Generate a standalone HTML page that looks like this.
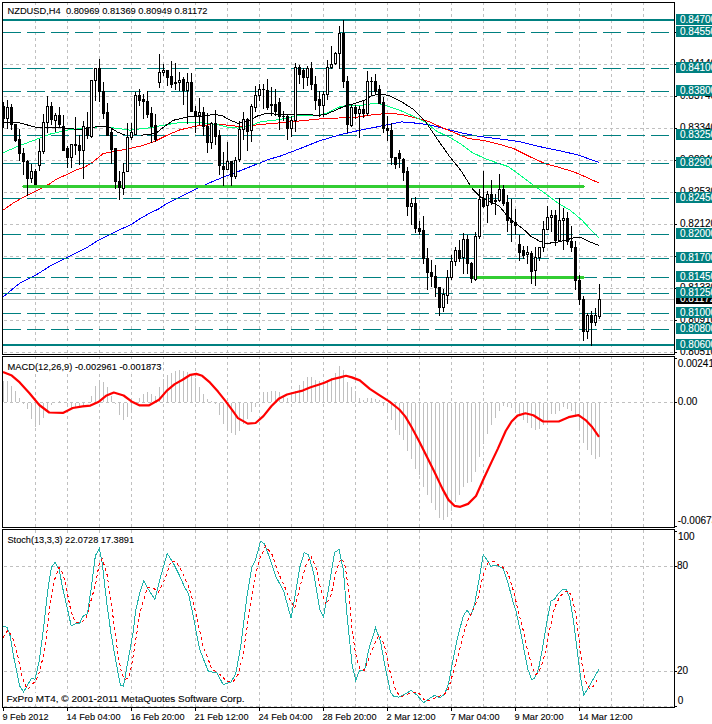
<!DOCTYPE html>
<html><head><meta charset="utf-8"><title>NZDUSD H4</title>
<style>html,body{margin:0;padding:0;background:#fff;overflow:hidden}</style></head>
<body>
<svg width="712" height="724" viewBox="0 0 712 724" shape-rendering="crispEdges" style="display:block">
<rect width="712" height="724" fill="#fff"/>
<g stroke="#c0c0c0" stroke-width="1" stroke-dasharray="3,3" fill="none">
<line x1="35.5" y1="2" x2="35.5" y2="354"/>
<line x1="35.5" y1="356" x2="35.5" y2="527"/>
<line x1="35.5" y1="530" x2="35.5" y2="707"/>
<line x1="67.5" y1="2" x2="67.5" y2="354"/>
<line x1="67.5" y1="356" x2="67.5" y2="527"/>
<line x1="67.5" y1="530" x2="67.5" y2="707"/>
<line x1="99.5" y1="2" x2="99.5" y2="354"/>
<line x1="99.5" y1="356" x2="99.5" y2="527"/>
<line x1="99.5" y1="530" x2="99.5" y2="707"/>
<line x1="131.5" y1="2" x2="131.5" y2="354"/>
<line x1="131.5" y1="356" x2="131.5" y2="527"/>
<line x1="131.5" y1="530" x2="131.5" y2="707"/>
<line x1="163.5" y1="2" x2="163.5" y2="354"/>
<line x1="163.5" y1="356" x2="163.5" y2="527"/>
<line x1="163.5" y1="530" x2="163.5" y2="707"/>
<line x1="195.5" y1="2" x2="195.5" y2="354"/>
<line x1="195.5" y1="356" x2="195.5" y2="527"/>
<line x1="195.5" y1="530" x2="195.5" y2="707"/>
<line x1="227.5" y1="2" x2="227.5" y2="354"/>
<line x1="227.5" y1="356" x2="227.5" y2="527"/>
<line x1="227.5" y1="530" x2="227.5" y2="707"/>
<line x1="259.5" y1="2" x2="259.5" y2="354"/>
<line x1="259.5" y1="356" x2="259.5" y2="527"/>
<line x1="259.5" y1="530" x2="259.5" y2="707"/>
<line x1="291.5" y1="2" x2="291.5" y2="354"/>
<line x1="291.5" y1="356" x2="291.5" y2="527"/>
<line x1="291.5" y1="530" x2="291.5" y2="707"/>
<line x1="323.5" y1="2" x2="323.5" y2="354"/>
<line x1="323.5" y1="356" x2="323.5" y2="527"/>
<line x1="323.5" y1="530" x2="323.5" y2="707"/>
<line x1="355.5" y1="2" x2="355.5" y2="354"/>
<line x1="355.5" y1="356" x2="355.5" y2="527"/>
<line x1="355.5" y1="530" x2="355.5" y2="707"/>
<line x1="387.5" y1="2" x2="387.5" y2="354"/>
<line x1="387.5" y1="356" x2="387.5" y2="527"/>
<line x1="387.5" y1="530" x2="387.5" y2="707"/>
<line x1="419.5" y1="2" x2="419.5" y2="354"/>
<line x1="419.5" y1="356" x2="419.5" y2="527"/>
<line x1="419.5" y1="530" x2="419.5" y2="707"/>
<line x1="451.5" y1="2" x2="451.5" y2="354"/>
<line x1="451.5" y1="356" x2="451.5" y2="527"/>
<line x1="451.5" y1="530" x2="451.5" y2="707"/>
<line x1="483.5" y1="2" x2="483.5" y2="354"/>
<line x1="483.5" y1="356" x2="483.5" y2="527"/>
<line x1="483.5" y1="530" x2="483.5" y2="707"/>
<line x1="515.5" y1="2" x2="515.5" y2="354"/>
<line x1="515.5" y1="356" x2="515.5" y2="527"/>
<line x1="515.5" y1="530" x2="515.5" y2="707"/>
<line x1="547.5" y1="2" x2="547.5" y2="354"/>
<line x1="547.5" y1="356" x2="547.5" y2="527"/>
<line x1="547.5" y1="530" x2="547.5" y2="707"/>
<line x1="579.5" y1="2" x2="579.5" y2="354"/>
<line x1="579.5" y1="356" x2="579.5" y2="527"/>
<line x1="579.5" y1="530" x2="579.5" y2="707"/>
<line x1="611.5" y1="2" x2="611.5" y2="354"/>
<line x1="611.5" y1="356" x2="611.5" y2="527"/>
<line x1="611.5" y1="530" x2="611.5" y2="707"/>
<line x1="643.5" y1="2" x2="643.5" y2="354"/>
<line x1="643.5" y1="356" x2="643.5" y2="527"/>
<line x1="643.5" y1="530" x2="643.5" y2="707"/>
<line x1="3" y1="64.5" x2="674" y2="64.5" stroke-dashoffset="5"/>
<line x1="3" y1="96.5" x2="674" y2="96.5" stroke-dashoffset="5"/>
<line x1="3" y1="128.5" x2="674" y2="128.5" stroke-dashoffset="5"/>
<line x1="3" y1="160.5" x2="674" y2="160.5" stroke-dashoffset="5"/>
<line x1="3" y1="192.5" x2="674" y2="192.5" stroke-dashoffset="5"/>
<line x1="3" y1="224.5" x2="674" y2="224.5" stroke-dashoffset="5"/>
<line x1="3" y1="256.5" x2="674" y2="256.5" stroke-dashoffset="5"/>
<line x1="3" y1="288.5" x2="674" y2="288.5" stroke-dashoffset="5"/>
<line x1="3" y1="320.5" x2="674" y2="320.5" stroke-dashoffset="5"/>
<line x1="3" y1="352.5" x2="674" y2="352.5" stroke-dashoffset="5"/>
<line x1="3" y1="402.5" x2="674" y2="402.5" stroke-dashoffset="5"/>
<line x1="3" y1="566.5" x2="674" y2="566.5" stroke-dashoffset="5"/>
<line x1="3" y1="671.5" x2="674" y2="671.5" stroke-dashoffset="5"/>
<line x1="3" y1="706.5" x2="674" y2="706.5" stroke-dashoffset="5"/>
</g>
<rect x="8" y="5" width="200" height="11" fill="#fff"/>
<rect x="8" y="361" width="153" height="11" fill="#fff"/>
<rect x="8" y="534" width="126" height="11" fill="#fff"/>
<rect x="7" y="693" width="238" height="11" fill="#fff"/>
<polyline points="3.0,297.0 19.7,283.2 35.4,275.4 51.0,265.5 66.8,257.7 86.5,247.8 96.0,241.7 104.4,237.5 112.9,233.2 121.3,229.0 131.1,224.5 138.1,219.9 149.4,213.3 159.2,208.7 166.2,203.8 174.7,199.5 183.1,195.3 191.5,191.1 196.0,189.0 208.6,183.2 224.4,176.7 240.1,170.8 255.8,164.5 270.0,159.0 279.7,156.3 299.3,148.9 319.0,141.0 338.6,135.1 358.3,130.6 378.0,126.7 390.0,124.2 401.8,121.9 413.6,122.9 429.3,124.8 445.1,128.8 460.8,132.7 476.5,136.0 492.2,138.0 508.0,140.0 519.3,141.6 539.0,146.5 558.6,150.5 578.3,155.0 590.1,159.3 598.6,162.3" fill="none" stroke="#0000ff" stroke-width="1"/>
<polyline points="3.0,210.2 14.0,202.5 26.7,195.5 35.1,191.3 42.1,187.8 49.2,184.2 56.2,179.3 63.2,176.2 70.2,173.0 77.2,169.5 84.3,167.4 91.3,163.2 100.0,156.2 103.0,153.5 114.0,151.5 125.8,149.2 141.8,145.9 155.6,141.0 165.4,136.0 179.2,130.1 194.9,126.2 208.6,124.8 224.4,124.8 236.2,126.2 248.0,126.2 260.0,124.5 279.7,122.9 299.3,121.0 319.0,119.0 338.6,118.0 358.3,117.0 374.0,114.5 385.8,113.7 400.0,114.1 413.6,117.4 429.3,121.7 441.1,127.2 452.9,132.1 468.6,138.6 484.4,140.6 500.1,144.5 513.4,148.5 529.2,156.4 544.9,163.6 558.6,167.2 574.4,172.1 588.1,178.0 598.6,182.9" fill="none" stroke="#ff0000" stroke-width="1"/>
<polyline points="3.0,152.7 19.7,145.6 39.3,138.3 51.0,133.8 68.8,129.9 88.5,127.9 102.0,126.5 118.0,128.5 130.0,130.1 149.7,127.8 169.3,124.2 181.0,122.3 196.9,122.3 216.5,124.4 224.0,126.3 229.3,127.4 237.8,128.1 246.2,126.0 253.2,124.6 260.2,121.8 275.7,120.0 287.5,118.0 299.3,115.0 319.0,115.0 326.9,113.0 338.6,107.2 346.5,105.6 362.2,105.2 374.0,103.3 381.9,104.2 390.0,107.0 401.8,111.1 413.6,116.4 425.4,122.3 437.2,131.5 449.0,137.0 460.8,143.9 472.6,152.7 484.4,158.3 496.2,162.6 508.0,166.5 517.8,173.4 530.0,182.6 546.9,194.7 558.6,203.6 570.4,210.4 582.2,220.3 590.1,229.1 598.6,237.6" fill="none" stroke="#00ff80" stroke-width="1"/>
<polyline points="3.0,123.0 16.0,122.0 26.0,124.6 39.0,128.0 59.0,127.5 79.0,129.5 92.0,127.5 102.0,126.0 110.0,127.5 118.0,132.4 126.0,135.4 134.0,136.0 140.0,135.4 155.6,133.5 163.4,127.2 173.3,120.3 187.0,117.0 200.8,116.4 214.5,114.4 222.4,115.8 230.3,120.3 238.1,123.3 248.0,121.3 257.8,115.8 268.0,113.0 279.7,115.0 291.5,114.7 305.2,114.5 319.0,115.4 326.9,114.0 338.6,108.8 346.5,105.6 354.4,103.6 364.2,100.3 372.0,95.4 381.9,94.0 389.8,95.8 401.8,102.0 413.6,109.5 425.4,121.3 437.2,139.0 449.0,155.7 460.8,170.4 472.6,189.1 480.4,197.0 491.8,202.6 499.7,206.5 507.5,216.3 515.4,223.2 523.3,229.1 531.1,236.4 539.0,240.9 546.9,243.5 558.6,241.9 566.5,239.9 574.4,237.6 582.2,238.0 590.1,241.9 598.6,245.4" fill="none" stroke="#000" stroke-width="1"/>
<rect x="3" y="19" width="671" height="2" fill="#008080"/>
<line x1="3" y1="32.5" x2="669" y2="32.5" stroke="#008080" stroke-width="1" stroke-dasharray="18,6"/>
<line x1="3" y1="68.5" x2="669" y2="68.5" stroke="#008080" stroke-width="1" stroke-dasharray="18,6"/>
<line x1="3" y1="91.5" x2="669" y2="91.5" stroke="#008080" stroke-width="1" stroke-dasharray="18,6"/>
<line x1="3" y1="135.5" x2="669" y2="135.5" stroke="#008080" stroke-width="1" stroke-dasharray="18,6"/>
<line x1="3" y1="163.5" x2="669" y2="163.5" stroke="#008080" stroke-width="1" stroke-dasharray="18,6"/>
<line x1="3" y1="198.5" x2="669" y2="198.5" stroke="#008080" stroke-width="1" stroke-dasharray="18,6"/>
<line x1="3" y1="234.5" x2="669" y2="234.5" stroke="#008080" stroke-width="1" stroke-dasharray="18,6"/>
<line x1="3" y1="258.5" x2="669" y2="258.5" stroke="#008080" stroke-width="1" stroke-dasharray="18,6"/>
<line x1="3" y1="277.5" x2="669" y2="277.5" stroke="#008080" stroke-width="1" stroke-dasharray="18,6"/>
<line x1="3" y1="293.5" x2="669" y2="293.5" stroke="#008080" stroke-width="1" stroke-dasharray="18,6"/>
<line x1="3" y1="313.5" x2="669" y2="313.5" stroke="#008080" stroke-width="1" stroke-dasharray="18,6"/>
<line x1="3" y1="329.5" x2="669" y2="329.5" stroke="#008080" stroke-width="1" stroke-dasharray="18,6"/>
<rect x="3" y="344" width="671" height="2" fill="#008080"/>
<rect x="3" y="299" width="671" height="1" fill="#c0c0c0"/>
<rect x="23" y="185" width="561" height="3" fill="#32cd32"/><rect x="22" y="186" width="563" height="1" fill="#32cd32"/>
<rect x="472" y="276" width="112" height="3" fill="#32cd32"/><rect x="472" y="277" width="113" height="1" fill="#32cd32"/>
<g fill="#000">
<rect x="3" y="102" width="1" height="26"/>
<rect x="2" y="106" width="3" height="13"/>
<rect x="7" y="100" width="1" height="29"/>
<rect x="6" y="107" width="3" height="12"/>
<rect x="11" y="104" width="1" height="26"/>
<rect x="10" y="107" width="3" height="18"/>
<rect x="15" y="124" width="1" height="18"/>
<rect x="14" y="124" width="3" height="17"/>
<rect x="19" y="129" width="1" height="32"/>
<rect x="18" y="139" width="3" height="15"/>
<rect x="23" y="148" width="1" height="27"/>
<rect x="22" y="153" width="3" height="9"/>
<rect x="27" y="160" width="1" height="36"/>
<rect x="26" y="161" width="3" height="18"/>
<rect x="31" y="164" width="1" height="19"/>
<rect x="30" y="171" width="3" height="8"/>
<rect x="35" y="169" width="1" height="16"/>
<rect x="34" y="171" width="3" height="14"/>
<rect x="39" y="139" width="1" height="32"/>
<rect x="38" y="151" width="3" height="15"/>
<rect x="43" y="114" width="1" height="40"/>
<rect x="42" y="122" width="3" height="30"/>
<rect x="47" y="96" width="1" height="37"/>
<rect x="46" y="106" width="3" height="17"/>
<rect x="51" y="102" width="1" height="23"/>
<rect x="50" y="106" width="3" height="14"/>
<rect x="55" y="113" width="1" height="19"/>
<rect x="54" y="115" width="3" height="6"/>
<rect x="59" y="107" width="1" height="20"/>
<rect x="58" y="115" width="3" height="10"/>
<rect x="63" y="115" width="1" height="36"/>
<rect x="62" y="126" width="3" height="25"/>
<rect x="67" y="146" width="1" height="22"/>
<rect x="66" y="148" width="3" height="10"/>
<rect x="71" y="144" width="1" height="24"/>
<rect x="70" y="144" width="3" height="14"/>
<rect x="75" y="117" width="1" height="38"/>
<rect x="74" y="144" width="3" height="2"/>
<rect x="79" y="135" width="1" height="30"/>
<rect x="78" y="145" width="3" height="6"/>
<rect x="83" y="121" width="1" height="58"/>
<rect x="82" y="126" width="3" height="25"/>
<rect x="87" y="112" width="1" height="27"/>
<rect x="86" y="127" width="3" height="9"/>
<rect x="91" y="80" width="1" height="58"/>
<rect x="90" y="80" width="3" height="57"/>
<rect x="95" y="68" width="1" height="33"/>
<rect x="94" y="68" width="3" height="13"/>
<rect x="99" y="59" width="1" height="43"/>
<rect x="98" y="68" width="3" height="24"/>
<rect x="103" y="82" width="1" height="37"/>
<rect x="102" y="91" width="3" height="23"/>
<rect x="107" y="103" width="1" height="33"/>
<rect x="106" y="112" width="3" height="24"/>
<rect x="111" y="128" width="1" height="36"/>
<rect x="110" y="132" width="3" height="18"/>
<rect x="115" y="148" width="1" height="41"/>
<rect x="114" y="148" width="3" height="34"/>
<rect x="119" y="171" width="1" height="29"/>
<rect x="118" y="181" width="3" height="7"/>
<rect x="123" y="163" width="1" height="32"/>
<rect x="122" y="172" width="3" height="17"/>
<rect x="127" y="123" width="1" height="49"/>
<rect x="126" y="137" width="3" height="35"/>
<rect x="131" y="123" width="1" height="17"/>
<rect x="130" y="132" width="3" height="6"/>
<rect x="135" y="92" width="1" height="43"/>
<rect x="134" y="95" width="3" height="40"/>
<rect x="139" y="89" width="1" height="17"/>
<rect x="138" y="95" width="3" height="6"/>
<rect x="143" y="94" width="1" height="25"/>
<rect x="142" y="99" width="3" height="3"/>
<rect x="147" y="91" width="1" height="27"/>
<rect x="146" y="101" width="3" height="14"/>
<rect x="151" y="107" width="1" height="36"/>
<rect x="150" y="113" width="3" height="14"/>
<rect x="155" y="114" width="1" height="28"/>
<rect x="154" y="125" width="3" height="15"/>
<rect x="159" y="54" width="1" height="34"/>
<rect x="158" y="72" width="3" height="11"/>
<rect x="163" y="64" width="1" height="12"/>
<rect x="162" y="70" width="3" height="3"/>
<rect x="167" y="70" width="1" height="16"/>
<rect x="166" y="70" width="3" height="8"/>
<rect x="171" y="61" width="1" height="27"/>
<rect x="170" y="76" width="3" height="9"/>
<rect x="175" y="63" width="1" height="27"/>
<rect x="174" y="82" width="3" height="2"/>
<rect x="179" y="72" width="1" height="19"/>
<rect x="178" y="80" width="3" height="3"/>
<rect x="183" y="77" width="1" height="28"/>
<rect x="182" y="79" width="3" height="12"/>
<rect x="187" y="73" width="1" height="51"/>
<rect x="186" y="82" width="3" height="9"/>
<rect x="191" y="73" width="1" height="39"/>
<rect x="190" y="82" width="3" height="30"/>
<rect x="195" y="106" width="1" height="27"/>
<rect x="194" y="111" width="3" height="6"/>
<rect x="199" y="98" width="1" height="27"/>
<rect x="198" y="112" width="3" height="4"/>
<rect x="203" y="107" width="1" height="29"/>
<rect x="202" y="112" width="3" height="15"/>
<rect x="207" y="113" width="1" height="40"/>
<rect x="206" y="126" width="3" height="17"/>
<rect x="211" y="122" width="1" height="27"/>
<rect x="210" y="123" width="3" height="20"/>
<rect x="215" y="110" width="1" height="35"/>
<rect x="214" y="123" width="3" height="14"/>
<rect x="219" y="130" width="1" height="45"/>
<rect x="218" y="135" width="3" height="31"/>
<rect x="223" y="152" width="1" height="34"/>
<rect x="222" y="166" width="3" height="4"/>
<rect x="227" y="142" width="1" height="28"/>
<rect x="226" y="161" width="3" height="9"/>
<rect x="231" y="161" width="1" height="25"/>
<rect x="230" y="161" width="3" height="16"/>
<rect x="235" y="157" width="1" height="22"/>
<rect x="234" y="160" width="3" height="17"/>
<rect x="239" y="121" width="1" height="41"/>
<rect x="238" y="129" width="3" height="31"/>
<rect x="243" y="112" width="1" height="28"/>
<rect x="242" y="119" width="3" height="11"/>
<rect x="247" y="118" width="1" height="33"/>
<rect x="246" y="119" width="3" height="13"/>
<rect x="251" y="104" width="1" height="38"/>
<rect x="250" y="106" width="3" height="25"/>
<rect x="255" y="86" width="1" height="26"/>
<rect x="254" y="95" width="3" height="13"/>
<rect x="259" y="84" width="1" height="17"/>
<rect x="258" y="89" width="3" height="7"/>
<rect x="263" y="84" width="1" height="25"/>
<rect x="262" y="89" width="3" height="1"/>
<rect x="267" y="79" width="1" height="31"/>
<rect x="266" y="90" width="3" height="18"/>
<rect x="271" y="87" width="1" height="29"/>
<rect x="270" y="104" width="3" height="2"/>
<rect x="275" y="89" width="1" height="27"/>
<rect x="274" y="104" width="3" height="8"/>
<rect x="279" y="98" width="1" height="32"/>
<rect x="278" y="102" width="3" height="15"/>
<rect x="283" y="111" width="1" height="10"/>
<rect x="282" y="116" width="3" height="1"/>
<rect x="287" y="115" width="1" height="25"/>
<rect x="286" y="116" width="3" height="13"/>
<rect x="291" y="116" width="1" height="21"/>
<rect x="290" y="120" width="3" height="9"/>
<rect x="295" y="63" width="1" height="69"/>
<rect x="294" y="67" width="3" height="54"/>
<rect x="299" y="65" width="1" height="19"/>
<rect x="298" y="67" width="3" height="8"/>
<rect x="303" y="68" width="1" height="21"/>
<rect x="302" y="70" width="3" height="8"/>
<rect x="307" y="66" width="1" height="20"/>
<rect x="306" y="68" width="3" height="10"/>
<rect x="311" y="62" width="1" height="28"/>
<rect x="310" y="68" width="3" height="17"/>
<rect x="315" y="76" width="1" height="34"/>
<rect x="314" y="84" width="3" height="17"/>
<rect x="319" y="91" width="1" height="26"/>
<rect x="318" y="99" width="3" height="7"/>
<rect x="323" y="91" width="1" height="26"/>
<rect x="322" y="94" width="3" height="12"/>
<rect x="327" y="60" width="1" height="40"/>
<rect x="326" y="67" width="3" height="28"/>
<rect x="331" y="46" width="1" height="23"/>
<rect x="330" y="64" width="3" height="4"/>
<rect x="335" y="52" width="1" height="13"/>
<rect x="334" y="53" width="3" height="11"/>
<rect x="339" y="26" width="1" height="43"/>
<rect x="338" y="33" width="3" height="21"/>
<rect x="343" y="20" width="1" height="68"/>
<rect x="342" y="33" width="3" height="49"/>
<rect x="347" y="76" width="1" height="57"/>
<rect x="346" y="81" width="3" height="44"/>
<rect x="351" y="105" width="1" height="22"/>
<rect x="350" y="107" width="3" height="19"/>
<rect x="355" y="105" width="1" height="14"/>
<rect x="354" y="107" width="3" height="7"/>
<rect x="359" y="106" width="1" height="32"/>
<rect x="358" y="109" width="3" height="5"/>
<rect x="363" y="101" width="1" height="17"/>
<rect x="362" y="109" width="3" height="5"/>
<rect x="367" y="71" width="1" height="45"/>
<rect x="366" y="81" width="3" height="33"/>
<rect x="371" y="77" width="1" height="19"/>
<rect x="370" y="81" width="3" height="1"/>
<rect x="375" y="74" width="1" height="21"/>
<rect x="374" y="81" width="3" height="11"/>
<rect x="379" y="85" width="1" height="19"/>
<rect x="378" y="89" width="3" height="15"/>
<rect x="383" y="97" width="1" height="36"/>
<rect x="382" y="102" width="3" height="27"/>
<rect x="387" y="116" width="1" height="25"/>
<rect x="386" y="128" width="3" height="3"/>
<rect x="391" y="123" width="1" height="42"/>
<rect x="390" y="130" width="3" height="28"/>
<rect x="395" y="157" width="1" height="12"/>
<rect x="394" y="157" width="3" height="8"/>
<rect x="399" y="150" width="1" height="18"/>
<rect x="398" y="153" width="3" height="6"/>
<rect x="403" y="158" width="1" height="23"/>
<rect x="402" y="159" width="3" height="14"/>
<rect x="407" y="167" width="1" height="49"/>
<rect x="406" y="171" width="3" height="36"/>
<rect x="411" y="198" width="1" height="27"/>
<rect x="410" y="203" width="3" height="4"/>
<rect x="415" y="197" width="1" height="36"/>
<rect x="414" y="203" width="3" height="26"/>
<rect x="419" y="221" width="1" height="14"/>
<rect x="418" y="228" width="3" height="4"/>
<rect x="423" y="216" width="1" height="48"/>
<rect x="422" y="230" width="3" height="29"/>
<rect x="427" y="248" width="1" height="42"/>
<rect x="426" y="258" width="3" height="15"/>
<rect x="431" y="260" width="1" height="27"/>
<rect x="430" y="272" width="3" height="5"/>
<rect x="435" y="265" width="1" height="32"/>
<rect x="434" y="276" width="3" height="12"/>
<rect x="439" y="287" width="1" height="29"/>
<rect x="438" y="287" width="3" height="21"/>
<rect x="443" y="289" width="1" height="23"/>
<rect x="442" y="294" width="3" height="14"/>
<rect x="447" y="270" width="1" height="34"/>
<rect x="446" y="277" width="3" height="19"/>
<rect x="451" y="255" width="1" height="25"/>
<rect x="450" y="261" width="3" height="17"/>
<rect x="455" y="247" width="1" height="19"/>
<rect x="454" y="250" width="3" height="12"/>
<rect x="459" y="240" width="1" height="22"/>
<rect x="458" y="250" width="3" height="9"/>
<rect x="463" y="233" width="1" height="41"/>
<rect x="462" y="239" width="3" height="19"/>
<rect x="467" y="235" width="1" height="39"/>
<rect x="466" y="239" width="3" height="25"/>
<rect x="471" y="262" width="1" height="21"/>
<rect x="470" y="263" width="3" height="16"/>
<rect x="475" y="232" width="1" height="49"/>
<rect x="474" y="236" width="3" height="44"/>
<rect x="479" y="189" width="1" height="50"/>
<rect x="478" y="199" width="3" height="38"/>
<rect x="483" y="171" width="1" height="37"/>
<rect x="482" y="198" width="3" height="9"/>
<rect x="487" y="191" width="1" height="32"/>
<rect x="486" y="194" width="3" height="12"/>
<rect x="491" y="180" width="1" height="25"/>
<rect x="490" y="194" width="3" height="9"/>
<rect x="495" y="194" width="1" height="21"/>
<rect x="494" y="200" width="3" height="2"/>
<rect x="499" y="174" width="1" height="28"/>
<rect x="498" y="189" width="3" height="12"/>
<rect x="503" y="185" width="1" height="21"/>
<rect x="502" y="189" width="3" height="15"/>
<rect x="507" y="195" width="1" height="37"/>
<rect x="506" y="202" width="3" height="19"/>
<rect x="511" y="199" width="1" height="43"/>
<rect x="510" y="220" width="3" height="3"/>
<rect x="515" y="209" width="1" height="26"/>
<rect x="514" y="222" width="3" height="4"/>
<rect x="519" y="235" width="1" height="26"/>
<rect x="518" y="244" width="3" height="9"/>
<rect x="523" y="246" width="1" height="13"/>
<rect x="522" y="250" width="3" height="6"/>
<rect x="527" y="246" width="1" height="18"/>
<rect x="526" y="252" width="3" height="3"/>
<rect x="531" y="251" width="1" height="33"/>
<rect x="530" y="253" width="3" height="19"/>
<rect x="535" y="247" width="1" height="39"/>
<rect x="534" y="257" width="3" height="14"/>
<rect x="539" y="247" width="1" height="14"/>
<rect x="538" y="247" width="3" height="11"/>
<rect x="543" y="221" width="1" height="31"/>
<rect x="542" y="229" width="3" height="19"/>
<rect x="547" y="206" width="1" height="24"/>
<rect x="546" y="217" width="3" height="13"/>
<rect x="551" y="210" width="1" height="22"/>
<rect x="550" y="215" width="3" height="3"/>
<rect x="555" y="210" width="1" height="36"/>
<rect x="554" y="215" width="3" height="26"/>
<rect x="559" y="198" width="1" height="43"/>
<rect x="558" y="220" width="3" height="21"/>
<rect x="563" y="208" width="1" height="42"/>
<rect x="562" y="218" width="3" height="3"/>
<rect x="567" y="212" width="1" height="33"/>
<rect x="566" y="218" width="3" height="24"/>
<rect x="571" y="226" width="1" height="26"/>
<rect x="570" y="241" width="3" height="7"/>
<rect x="575" y="241" width="1" height="49"/>
<rect x="574" y="247" width="3" height="34"/>
<rect x="579" y="275" width="1" height="30"/>
<rect x="578" y="280" width="3" height="20"/>
<rect x="583" y="296" width="1" height="45"/>
<rect x="582" y="299" width="3" height="33"/>
<rect x="587" y="313" width="1" height="26"/>
<rect x="586" y="315" width="3" height="17"/>
<rect x="591" y="311" width="1" height="35"/>
<rect x="590" y="315" width="3" height="8"/>
<rect x="595" y="308" width="1" height="18"/>
<rect x="594" y="315" width="3" height="8"/>
<rect x="599" y="284" width="1" height="35"/>
<rect x="598" y="299" width="3" height="18"/>
</g><g fill="#fff">
<rect x="7" y="108" width="1" height="10"/>
<rect x="31" y="172" width="1" height="6"/>
<rect x="39" y="152" width="1" height="13"/>
<rect x="43" y="123" width="1" height="28"/>
<rect x="47" y="107" width="1" height="15"/>
<rect x="55" y="116" width="1" height="4"/>
<rect x="71" y="145" width="1" height="12"/>
<rect x="83" y="127" width="1" height="23"/>
<rect x="91" y="81" width="1" height="55"/>
<rect x="95" y="69" width="1" height="11"/>
<rect x="123" y="173" width="1" height="15"/>
<rect x="127" y="138" width="1" height="33"/>
<rect x="131" y="133" width="1" height="4"/>
<rect x="135" y="96" width="1" height="38"/>
<rect x="159" y="73" width="1" height="9"/>
<rect x="163" y="71" width="1" height="1"/>
<rect x="179" y="81" width="1" height="1"/>
<rect x="187" y="83" width="1" height="7"/>
<rect x="199" y="113" width="1" height="2"/>
<rect x="211" y="124" width="1" height="18"/>
<rect x="227" y="162" width="1" height="7"/>
<rect x="235" y="161" width="1" height="15"/>
<rect x="239" y="130" width="1" height="29"/>
<rect x="243" y="120" width="1" height="9"/>
<rect x="251" y="107" width="1" height="23"/>
<rect x="255" y="96" width="1" height="11"/>
<rect x="259" y="90" width="1" height="5"/>
<rect x="291" y="121" width="1" height="7"/>
<rect x="295" y="68" width="1" height="52"/>
<rect x="307" y="69" width="1" height="8"/>
<rect x="323" y="95" width="1" height="10"/>
<rect x="327" y="68" width="1" height="26"/>
<rect x="331" y="65" width="1" height="2"/>
<rect x="335" y="54" width="1" height="9"/>
<rect x="339" y="34" width="1" height="19"/>
<rect x="351" y="108" width="1" height="17"/>
<rect x="359" y="110" width="1" height="3"/>
<rect x="367" y="82" width="1" height="31"/>
<rect x="411" y="204" width="1" height="2"/>
<rect x="443" y="295" width="1" height="12"/>
<rect x="447" y="278" width="1" height="17"/>
<rect x="451" y="262" width="1" height="15"/>
<rect x="455" y="251" width="1" height="10"/>
<rect x="463" y="240" width="1" height="17"/>
<rect x="475" y="237" width="1" height="42"/>
<rect x="479" y="200" width="1" height="36"/>
<rect x="487" y="195" width="1" height="10"/>
<rect x="499" y="190" width="1" height="10"/>
<rect x="527" y="253" width="1" height="1"/>
<rect x="535" y="258" width="1" height="12"/>
<rect x="539" y="248" width="1" height="9"/>
<rect x="543" y="230" width="1" height="17"/>
<rect x="547" y="218" width="1" height="11"/>
<rect x="551" y="216" width="1" height="1"/>
<rect x="559" y="221" width="1" height="19"/>
<rect x="563" y="219" width="1" height="1"/>
<rect x="587" y="316" width="1" height="15"/>
<rect x="595" y="316" width="1" height="6"/>
<rect x="599" y="300" width="1" height="16"/>
</g>
<g fill="#c0c0c0">
<rect x="3" y="381" width="1" height="21"/>
<rect x="7" y="381" width="1" height="21"/>
<rect x="11" y="386" width="1" height="16"/>
<rect x="15" y="391" width="1" height="11"/>
<rect x="19" y="398" width="1" height="4"/>
<rect x="23" y="403" width="1" height="1"/>
<rect x="27" y="403" width="1" height="6"/>
<rect x="31" y="403" width="1" height="16"/>
<rect x="35" y="403" width="1" height="24"/>
<rect x="39" y="403" width="1" height="22"/>
<rect x="43" y="403" width="1" height="15"/>
<rect x="47" y="403" width="1" height="8"/>
<rect x="51" y="403" width="1" height="2"/>
<rect x="59" y="401" width="1" height="1"/>
<rect x="67" y="403" width="1" height="1"/>
<rect x="71" y="403" width="1" height="5"/>
<rect x="75" y="403" width="1" height="5"/>
<rect x="79" y="403" width="1" height="5"/>
<rect x="83" y="403" width="1" height="3"/>
<rect x="91" y="396" width="1" height="6"/>
<rect x="95" y="386" width="1" height="16"/>
<rect x="99" y="380" width="1" height="22"/>
<rect x="103" y="382" width="1" height="20"/>
<rect x="107" y="387" width="1" height="15"/>
<rect x="111" y="396" width="1" height="6"/>
<rect x="115" y="403" width="1" height="1"/>
<rect x="119" y="403" width="1" height="12"/>
<rect x="123" y="403" width="1" height="17"/>
<rect x="127" y="403" width="1" height="14"/>
<rect x="131" y="403" width="1" height="10"/>
<rect x="135" y="403" width="1" height="1"/>
<rect x="139" y="398" width="1" height="4"/>
<rect x="143" y="394" width="1" height="8"/>
<rect x="147" y="392" width="1" height="10"/>
<rect x="151" y="394" width="1" height="8"/>
<rect x="155" y="396" width="1" height="6"/>
<rect x="159" y="387" width="1" height="15"/>
<rect x="163" y="379" width="1" height="23"/>
<rect x="167" y="375" width="1" height="27"/>
<rect x="171" y="373" width="1" height="29"/>
<rect x="175" y="371" width="1" height="31"/>
<rect x="179" y="370" width="1" height="32"/>
<rect x="183" y="371" width="1" height="31"/>
<rect x="187" y="372" width="1" height="30"/>
<rect x="191" y="375" width="1" height="27"/>
<rect x="195" y="378" width="1" height="24"/>
<rect x="199" y="387" width="1" height="15"/>
<rect x="203" y="394" width="1" height="8"/>
<rect x="207" y="399" width="1" height="3"/>
<rect x="211" y="401" width="1" height="1"/>
<rect x="215" y="403" width="1" height="1"/>
<rect x="219" y="403" width="1" height="12"/>
<rect x="223" y="403" width="1" height="21"/>
<rect x="227" y="403" width="1" height="26"/>
<rect x="231" y="403" width="1" height="30"/>
<rect x="235" y="403" width="1" height="32"/>
<rect x="239" y="403" width="1" height="28"/>
<rect x="243" y="403" width="1" height="21"/>
<rect x="247" y="403" width="1" height="16"/>
<rect x="251" y="403" width="1" height="9"/>
<rect x="255" y="403" width="1" height="4"/>
<rect x="259" y="401" width="1" height="1"/>
<rect x="263" y="392" width="1" height="10"/>
<rect x="267" y="392" width="1" height="10"/>
<rect x="271" y="391" width="1" height="11"/>
<rect x="275" y="391" width="1" height="11"/>
<rect x="279" y="392" width="1" height="10"/>
<rect x="283" y="396" width="1" height="6"/>
<rect x="287" y="398" width="1" height="4"/>
<rect x="291" y="394" width="1" height="8"/>
<rect x="295" y="391" width="1" height="11"/>
<rect x="299" y="385" width="1" height="17"/>
<rect x="303" y="381" width="1" height="21"/>
<rect x="307" y="377" width="1" height="25"/>
<rect x="311" y="377" width="1" height="25"/>
<rect x="315" y="380" width="1" height="22"/>
<rect x="319" y="381" width="1" height="21"/>
<rect x="323" y="382" width="1" height="20"/>
<rect x="327" y="380" width="1" height="22"/>
<rect x="331" y="378" width="1" height="24"/>
<rect x="335" y="373" width="1" height="29"/>
<rect x="339" y="366" width="1" height="36"/>
<rect x="343" y="370" width="1" height="32"/>
<rect x="347" y="382" width="1" height="20"/>
<rect x="351" y="387" width="1" height="15"/>
<rect x="355" y="391" width="1" height="11"/>
<rect x="359" y="398" width="1" height="4"/>
<rect x="363" y="400" width="1" height="2"/>
<rect x="367" y="398" width="1" height="4"/>
<rect x="371" y="398" width="1" height="4"/>
<rect x="375" y="399" width="1" height="3"/>
<rect x="379" y="400" width="1" height="2"/>
<rect x="383" y="403" width="1" height="3"/>
<rect x="387" y="403" width="1" height="10"/>
<rect x="391" y="403" width="1" height="17"/>
<rect x="395" y="403" width="1" height="27"/>
<rect x="399" y="403" width="1" height="32"/>
<rect x="403" y="403" width="1" height="37"/>
<rect x="407" y="403" width="1" height="48"/>
<rect x="411" y="403" width="1" height="56"/>
<rect x="415" y="403" width="1" height="66"/>
<rect x="419" y="403" width="1" height="72"/>
<rect x="423" y="403" width="1" height="84"/>
<rect x="427" y="403" width="1" height="92"/>
<rect x="431" y="403" width="1" height="100"/>
<rect x="435" y="403" width="1" height="107"/>
<rect x="439" y="403" width="1" height="115"/>
<rect x="443" y="403" width="1" height="117"/>
<rect x="447" y="403" width="1" height="114"/>
<rect x="451" y="403" width="1" height="108"/>
<rect x="455" y="403" width="1" height="99"/>
<rect x="459" y="403" width="1" height="92"/>
<rect x="463" y="403" width="1" height="84"/>
<rect x="467" y="403" width="1" height="80"/>
<rect x="471" y="403" width="1" height="79"/>
<rect x="475" y="403" width="1" height="69"/>
<rect x="479" y="403" width="1" height="54"/>
<rect x="483" y="403" width="1" height="41"/>
<rect x="487" y="403" width="1" height="31"/>
<rect x="491" y="403" width="1" height="22"/>
<rect x="495" y="403" width="1" height="15"/>
<rect x="499" y="403" width="1" height="8"/>
<rect x="503" y="403" width="1" height="3"/>
<rect x="507" y="403" width="1" height="4"/>
<rect x="511" y="403" width="1" height="5"/>
<rect x="515" y="403" width="1" height="8"/>
<rect x="519" y="403" width="1" height="13"/>
<rect x="523" y="403" width="1" height="17"/>
<rect x="527" y="403" width="1" height="20"/>
<rect x="531" y="403" width="1" height="25"/>
<rect x="535" y="403" width="1" height="27"/>
<rect x="539" y="403" width="1" height="26"/>
<rect x="543" y="403" width="1" height="22"/>
<rect x="547" y="403" width="1" height="17"/>
<rect x="551" y="403" width="1" height="11"/>
<rect x="555" y="403" width="1" height="11"/>
<rect x="559" y="403" width="1" height="8"/>
<rect x="563" y="403" width="1" height="4"/>
<rect x="567" y="403" width="1" height="6"/>
<rect x="571" y="403" width="1" height="8"/>
<rect x="575" y="403" width="1" height="14"/>
<rect x="579" y="403" width="1" height="28"/>
<rect x="583" y="403" width="1" height="40"/>
<rect x="587" y="403" width="1" height="47"/>
<rect x="591" y="403" width="1" height="52"/>
<rect x="595" y="403" width="1" height="56"/>
<rect x="599" y="403" width="1" height="54"/>
</g>
<polyline points="3.0,372.0 11.8,375.6 19.7,382.4 29.5,393.3 39.3,405.0 49.2,412.5 62.9,412.9 72.7,408.0 82.6,406.4 90.4,405.6 98.3,402.1 106.0,395.8 113.8,392.5 123.6,395.5 131.5,401.4 139.3,405.3 149.2,405.3 159.0,399.8 166.9,390.6 174.7,384.1 182.6,379.8 190.4,374.8 196.3,373.9 202.2,375.8 210.1,382.7 218.0,391.6 225.8,401.4 233.7,412.2 237.9,418.1 247.7,423.6 255.6,423.0 263.4,416.1 271.3,406.3 279.2,398.4 287.0,394.5 294.9,392.5 302.7,390.6 310.6,387.2 318.5,384.7 324.4,382.7 332.2,379.2 340.1,377.4 346.0,375.8 351.9,377.4 359.8,380.4 369.8,388.8 379.7,395.3 389.5,401.6 399.3,409.5 405.2,416.4 411.1,426.2 419.0,441.0 426.9,456.7 434.7,472.4 442.6,489.1 448.5,499.9 454.4,505.8 460.3,506.8 468.1,503.9 476.0,496.0 483.9,478.3 491.7,461.6 497.9,448.6 505.7,431.0 511.6,421.5 517.5,415.6 525.4,413.3 533.3,415.2 543.1,421.5 558.8,421.5 568.6,417.2 578.5,415.2 586.3,420.7 592.2,427.0 599.0,436.9" fill="none" stroke="#ff0000" stroke-width="2.2" stroke-linejoin="round" shape-rendering="auto"/>
<polyline points="3.0,626.3 6.9,627.3 9.8,634.2 13.8,657.5 19.7,686.0 23.6,692.0 27.5,685.0 31.5,678.2 35.0,679.2 39.3,661.0 44.2,622.4 48.2,587.0 51.5,567.3 55.0,562.4 59.0,569.3 62.9,589.0 67.8,610.6 71.2,625.7 75.7,623.8 79.6,623.4 82.6,616.5 87.5,613.5 91.4,587.0 95.4,555.5 99.3,548.6 102.2,563.4 107.2,606.6 111.1,634.2 116.0,662.0 120.3,685.0 123.5,686.0 127.8,662.0 133.0,633.0 135.7,610.6 140.0,591.9 143.7,581.0 148.6,589.7 154.9,599.6 161.1,574.8 167.3,553.6 173.5,563.6 179.7,576.0 184.7,587.2 188.4,593.4 193.4,617.0 199.6,649.3 208.3,671.2 217.0,673.0 223.2,684.7 230.7,682.2 235.7,674.2 240.6,646.9 246.9,597.1 251.8,567.3 255.6,559.8 260.5,541.2 264.3,543.7 269.9,558.6 276.2,577.2 283.6,590.9 291.1,618.3 294.8,597.1 299.8,567.3 304.3,552.4 308.5,554.9 313.5,572.3 319.7,609.6 323.4,617.0 328.4,589.7 334.6,552.4 339.1,549.4 343.3,569.8 347.0,614.5 352.0,664.3 355.7,680.4 359.5,670.5 364.4,670.5 369.4,646.9 375.6,627.7 380.6,641.9 385.6,669.2 390.5,692.0 393.7,696.6 398.7,697.1 404.9,694.1 411.1,690.4 417.3,695.3 423.6,702.8 428.5,699.1 434.8,695.3 439.7,697.8 444.7,694.1 448.4,684.2 452.2,664.3 457.1,639.4 463.3,615.8 467.1,610.1 470.8,615.8 474.5,604.6 479.5,577.2 483.2,554.9 487.0,559.8 490.7,566.1 496.9,565.6 503.1,568.5 507.5,581.0 512.4,599.6 516.2,612.0 521.1,634.4 524.9,654.3 527.8,669.2 531.8,679.7 534.8,677.9 538.5,669.2 542.3,649.3 547.2,619.5 551.0,600.9 554.7,599.1 558.4,593.4 562.2,589.7 565.9,589.2 569.6,597.1 573.3,619.5 577.1,649.3 580.8,679.2 583.8,694.8 588.3,687.9 593.2,679.2 599.0,669.2" fill="none" stroke="#20b2aa" stroke-width="1"/>
<polyline points="3.0,637.5 7.9,630.2 12.8,638.0 17.7,655.7 21.6,675.2 25.6,686.0 28.5,689.0 32.4,684.0 36.4,680.1 40.3,669.3 44.2,651.6 46.2,638.1 50.1,602.7 54.1,581.0 59.0,567.3 62.9,573.2 66.9,590.9 71.2,612.5 75.7,622.4 80.6,623.4 86.5,617.5 90.4,602.7 95.4,585.0 99.3,563.4 102.2,558.5 107.2,575.2 111.1,602.7 116.0,638.1 118.0,655.6 121.9,674.2 124.9,679.5 128.8,677.2 131.7,665.4 135.7,640.0 140.0,612.5 147.4,587.2 153.6,588.4 158.6,592.2 164.8,579.7 171.0,561.1 176.0,561.1 182.2,572.3 188.4,585.9 193.4,602.1 197.1,619.5 203.3,646.9 212.0,669.2 219.5,674.2 227.0,681.7 233.2,681.7 238.2,674.2 243.1,654.3 249.3,612.0 254.3,579.7 259.3,559.8 265.5,546.2 272.4,554.9 278.6,573.5 284.9,587.2 289.8,599.6 294.8,608.3 299.8,587.2 306.0,564.8 311.0,556.1 315.9,567.3 320.9,589.7 325.9,604.6 330.9,595.9 335.8,572.3 340.8,558.6 344.5,562.3 348.3,587.2 352.0,629.5 355.7,654.3 359.5,668.0 364.4,670.5 369.4,656.8 374.4,644.4 379.3,634.4 384.3,644.4 389.3,669.2 392.5,679.2 396.2,691.6 401.2,696.6 407.4,694.1 414.9,692.1 419.8,694.1 424.8,700.3 431.0,700.3 437.2,696.6 443.5,695.3 448.4,689.1 453.4,671.7 458.4,654.3 463.3,634.4 468.3,619.5 473.3,609.6 478.3,597.1 483.2,574.8 488.2,562.3 493.2,561.1 498.2,564.8 503.1,567.3 508.1,573.5 513.1,589.7 518.0,609.6 523.0,629.5 527.3,649.3 532.3,668.0 536.1,674.7 541.0,668.0 544.8,654.3 549.7,629.5 554.7,607.1 559.7,597.1 564.6,591.7 568.4,590.9 572.1,597.1 575.8,614.5 578.3,634.4 582.0,664.3 585.8,681.7 589.5,688.6 593.2,686.6 597.0,680.4" fill="none" stroke="#ff0000" stroke-width="1" stroke-dasharray="3,3"/>
<g fill="none" stroke="#000" stroke-width="1">
<rect x="2.5" y="2.5" width="672" height="352"/>
<rect x="2.5" y="356.5" width="672" height="171"/>
<rect x="2.5" y="529.5" width="672" height="178"/>
</g>
<g fill="#000">
<rect x="675" y="32" width="2" height="1"/>
<rect x="675" y="64" width="2" height="1"/>
<rect x="675" y="96" width="2" height="1"/>
<rect x="675" y="128" width="2" height="1"/>
<rect x="675" y="160" width="2" height="1"/>
<rect x="675" y="192" width="2" height="1"/>
<rect x="675" y="224" width="2" height="1"/>
<rect x="675" y="256" width="2" height="1"/>
<rect x="675" y="288" width="2" height="1"/>
<rect x="675" y="320" width="2" height="1"/>
<rect x="675" y="352" width="2" height="1"/>
<rect x="675" y="358" width="2" height="1"/>
<rect x="675" y="402" width="2" height="1"/>
<rect x="675" y="526" width="2" height="1"/>
<rect x="675" y="531" width="2" height="1"/>
<rect x="675" y="566" width="2" height="1"/>
<rect x="675" y="671" width="2" height="1"/>
<rect x="675" y="706" width="2" height="1"/>
<rect x="3" y="708" width="1" height="3"/>
<rect x="67" y="708" width="1" height="3"/>
<rect x="131" y="708" width="1" height="3"/>
<rect x="195" y="708" width="1" height="3"/>
<rect x="259" y="708" width="1" height="3"/>
<rect x="323" y="708" width="1" height="3"/>
<rect x="387" y="708" width="1" height="3"/>
<rect x="451" y="708" width="1" height="3"/>
<rect x="515" y="708" width="1" height="3"/>
<rect x="579" y="708" width="1" height="3"/>
</g>
<g shape-rendering="auto">
<text x="680" y="67" font-family="Liberation Sans, Arial, sans-serif" font-size="10px" fill="#000" stroke="#000" stroke-width="0.1">0.84140</text>
<text x="680" y="99" font-family="Liberation Sans, Arial, sans-serif" font-size="10px" fill="#000" stroke="#000" stroke-width="0.1">0.83740</text>
<text x="680" y="131" font-family="Liberation Sans, Arial, sans-serif" font-size="10px" fill="#000" stroke="#000" stroke-width="0.1">0.83340</text>
<text x="680" y="163" font-family="Liberation Sans, Arial, sans-serif" font-size="10px" fill="#000" stroke="#000" stroke-width="0.1">0.82940</text>
<text x="680" y="195" font-family="Liberation Sans, Arial, sans-serif" font-size="10px" fill="#000" stroke="#000" stroke-width="0.1">0.82530</text>
<text x="680" y="227" font-family="Liberation Sans, Arial, sans-serif" font-size="10px" fill="#000" stroke="#000" stroke-width="0.1">0.82120</text>
<text x="680" y="291" font-family="Liberation Sans, Arial, sans-serif" font-size="10px" fill="#000" stroke="#000" stroke-width="0.1">0.81330</text>
<text x="680" y="323" font-family="Liberation Sans, Arial, sans-serif" font-size="10px" fill="#000" stroke="#000" stroke-width="0.1">0.80910</text>
<text x="680" y="355" font-family="Liberation Sans, Arial, sans-serif" font-size="10px" fill="#000" stroke="#000" stroke-width="0.1">0.80510</text>
<rect x="676" y="293" width="36" height="11" fill="#000"/>
<text x="680" y="302" font-family="Liberation Sans, Arial, sans-serif" font-size="10px" fill="#fff" stroke="#fff" stroke-width="0.1">0.81172</text>
<rect x="676" y="14" width="36" height="11" fill="#008080" shape-rendering="crispEdges"/>
<text x="680" y="23" font-family="Liberation Sans, Arial, sans-serif" font-size="10px" fill="#fff" stroke="#fff" stroke-width="0.1">0.84700</text>
<rect x="676" y="26" width="36" height="11" fill="#008080" shape-rendering="crispEdges"/>
<text x="680" y="35" font-family="Liberation Sans, Arial, sans-serif" font-size="10px" fill="#fff" stroke="#fff" stroke-width="0.1">0.84550</text>
<rect x="676" y="62" width="36" height="11" fill="#008080" shape-rendering="crispEdges"/>
<text x="680" y="71" font-family="Liberation Sans, Arial, sans-serif" font-size="10px" fill="#fff" stroke="#fff" stroke-width="0.1">0.84100</text>
<rect x="676" y="85" width="36" height="11" fill="#008080" shape-rendering="crispEdges"/>
<text x="680" y="94" font-family="Liberation Sans, Arial, sans-serif" font-size="10px" fill="#fff" stroke="#fff" stroke-width="0.1">0.83800</text>
<rect x="676" y="129" width="36" height="11" fill="#008080" shape-rendering="crispEdges"/>
<text x="680" y="138" font-family="Liberation Sans, Arial, sans-serif" font-size="10px" fill="#fff" stroke="#fff" stroke-width="0.1">0.83250</text>
<rect x="676" y="157" width="36" height="11" fill="#008080" shape-rendering="crispEdges"/>
<text x="680" y="166" font-family="Liberation Sans, Arial, sans-serif" font-size="10px" fill="#fff" stroke="#fff" stroke-width="0.1">0.82900</text>
<rect x="676" y="192" width="36" height="11" fill="#008080" shape-rendering="crispEdges"/>
<text x="680" y="201" font-family="Liberation Sans, Arial, sans-serif" font-size="10px" fill="#fff" stroke="#fff" stroke-width="0.1">0.82450</text>
<rect x="676" y="228" width="36" height="11" fill="#008080" shape-rendering="crispEdges"/>
<text x="680" y="237" font-family="Liberation Sans, Arial, sans-serif" font-size="10px" fill="#fff" stroke="#fff" stroke-width="0.1">0.82000</text>
<rect x="676" y="252" width="36" height="11" fill="#008080" shape-rendering="crispEdges"/>
<text x="680" y="261" font-family="Liberation Sans, Arial, sans-serif" font-size="10px" fill="#fff" stroke="#fff" stroke-width="0.1">0.81700</text>
<rect x="676" y="271" width="36" height="11" fill="#008080" shape-rendering="crispEdges"/>
<text x="680" y="280" font-family="Liberation Sans, Arial, sans-serif" font-size="10px" fill="#fff" stroke="#fff" stroke-width="0.1">0.81450</text>
<rect x="676" y="287" width="36" height="11" fill="#008080" shape-rendering="crispEdges"/>
<text x="680" y="296" font-family="Liberation Sans, Arial, sans-serif" font-size="10px" fill="#fff" stroke="#fff" stroke-width="0.1">0.81250</text>
<rect x="676" y="307" width="36" height="11" fill="#008080" shape-rendering="crispEdges"/>
<text x="680" y="316" font-family="Liberation Sans, Arial, sans-serif" font-size="10px" fill="#fff" stroke="#fff" stroke-width="0.1">0.81000</text>
<rect x="676" y="323" width="36" height="11" fill="#008080" shape-rendering="crispEdges"/>
<text x="680" y="332" font-family="Liberation Sans, Arial, sans-serif" font-size="10px" fill="#fff" stroke="#fff" stroke-width="0.1">0.80800</text>
<rect x="676" y="339" width="36" height="11" fill="#008080" shape-rendering="crispEdges"/>
<text x="680" y="348" font-family="Liberation Sans, Arial, sans-serif" font-size="10px" fill="#fff" stroke="#fff" stroke-width="0.1">0.80600</text>
<text x="677.8" y="367" font-family="Liberation Sans, Arial, sans-serif" font-size="10px" fill="#000" stroke="#000" stroke-width="0.1">0.00241</text>
<text x="677.8" y="405" font-family="Liberation Sans, Arial, sans-serif" font-size="10px" fill="#000" stroke="#000" stroke-width="0.1">0.00</text>
<text x="677.7" y="524" font-family="Liberation Sans, Arial, sans-serif" font-size="10px" fill="#000" stroke="#000" stroke-width="0.1">-0.00673</text>
<text x="678" y="540" font-family="Liberation Sans, Arial, sans-serif" font-size="10px" fill="#000" stroke="#000" stroke-width="0.1">100</text>
<text x="677" y="569" font-family="Liberation Sans, Arial, sans-serif" font-size="10px" fill="#000" stroke="#000" stroke-width="0.1">80</text>
<text x="677" y="674" font-family="Liberation Sans, Arial, sans-serif" font-size="10px" fill="#000" stroke="#000" stroke-width="0.1">20</text>
<text x="677.8" y="704" font-family="Liberation Sans, Arial, sans-serif" font-size="10px" fill="#000" stroke="#000" stroke-width="0.1">0</text>
<text x="7.5" y="14" font-family="Liberation Sans, Arial, sans-serif" font-size="9.6px" fill="#000" stroke="#000" stroke-width="0.1" textLength="200" lengthAdjust="spacingAndGlyphs" xml:space="preserve">NZDUSD,H4&#160;&#160;0.80969 0.81369 0.80949 0.81172</text>
<text x="7.5" y="370" font-family="Liberation Sans, Arial, sans-serif" font-size="9.6px" fill="#000" stroke="#000" stroke-width="0.1" textLength="154" lengthAdjust="spacingAndGlyphs" >MACD(12,26,9) -0.002961 -0.001873</text>
<text x="7.5" y="543" font-family="Liberation Sans, Arial, sans-serif" font-size="9.6px" fill="#000" stroke="#000" stroke-width="0.1" textLength="126.5" lengthAdjust="spacingAndGlyphs" >Stoch(13,3,3) 22.0728 17.3891</text>
<text x="6.5" y="702" font-family="Liberation Sans, Arial, sans-serif" font-size="9.6px" fill="#000" stroke="#000" stroke-width="0.1" textLength="238" lengthAdjust="spacingAndGlyphs" >FxPro MT4, © 2001-2011 MetaQuotes Software Corp.</text>
<text x="2.5" y="720" font-family="Liberation Sans, Arial, sans-serif" font-size="9.6px" fill="#000" stroke="#000" stroke-width="0.1" textLength="46" lengthAdjust="spacingAndGlyphs" >9 Feb 2012</text>
<text x="66.5" y="720" font-family="Liberation Sans, Arial, sans-serif" font-size="9.6px" fill="#000" stroke="#000" stroke-width="0.1" textLength="54" lengthAdjust="spacingAndGlyphs" >14 Feb 04:00</text>
<text x="130.5" y="720" font-family="Liberation Sans, Arial, sans-serif" font-size="9.6px" fill="#000" stroke="#000" stroke-width="0.1" textLength="54" lengthAdjust="spacingAndGlyphs" >16 Feb 20:00</text>
<text x="194.5" y="720" font-family="Liberation Sans, Arial, sans-serif" font-size="9.6px" fill="#000" stroke="#000" stroke-width="0.1" textLength="54" lengthAdjust="spacingAndGlyphs" >21 Feb 12:00</text>
<text x="258.5" y="720" font-family="Liberation Sans, Arial, sans-serif" font-size="9.6px" fill="#000" stroke="#000" stroke-width="0.1" textLength="54" lengthAdjust="spacingAndGlyphs" >24 Feb 04:00</text>
<text x="322.5" y="720" font-family="Liberation Sans, Arial, sans-serif" font-size="9.6px" fill="#000" stroke="#000" stroke-width="0.1" textLength="54" lengthAdjust="spacingAndGlyphs" >28 Feb 20:00</text>
<text x="386.5" y="720" font-family="Liberation Sans, Arial, sans-serif" font-size="9.6px" fill="#000" stroke="#000" stroke-width="0.1" textLength="49" lengthAdjust="spacingAndGlyphs" >2 Mar 12:00</text>
<text x="450.5" y="720" font-family="Liberation Sans, Arial, sans-serif" font-size="9.6px" fill="#000" stroke="#000" stroke-width="0.1" textLength="49" lengthAdjust="spacingAndGlyphs" >7 Mar 04:00</text>
<text x="514.5" y="720" font-family="Liberation Sans, Arial, sans-serif" font-size="9.6px" fill="#000" stroke="#000" stroke-width="0.1" textLength="49" lengthAdjust="spacingAndGlyphs" >9 Mar 20:00</text>
<text x="578.5" y="720" font-family="Liberation Sans, Arial, sans-serif" font-size="9.6px" fill="#000" stroke="#000" stroke-width="0.1" textLength="54" lengthAdjust="spacingAndGlyphs" >14 Mar 12:00</text>
</g>
</svg>
</body></html>
